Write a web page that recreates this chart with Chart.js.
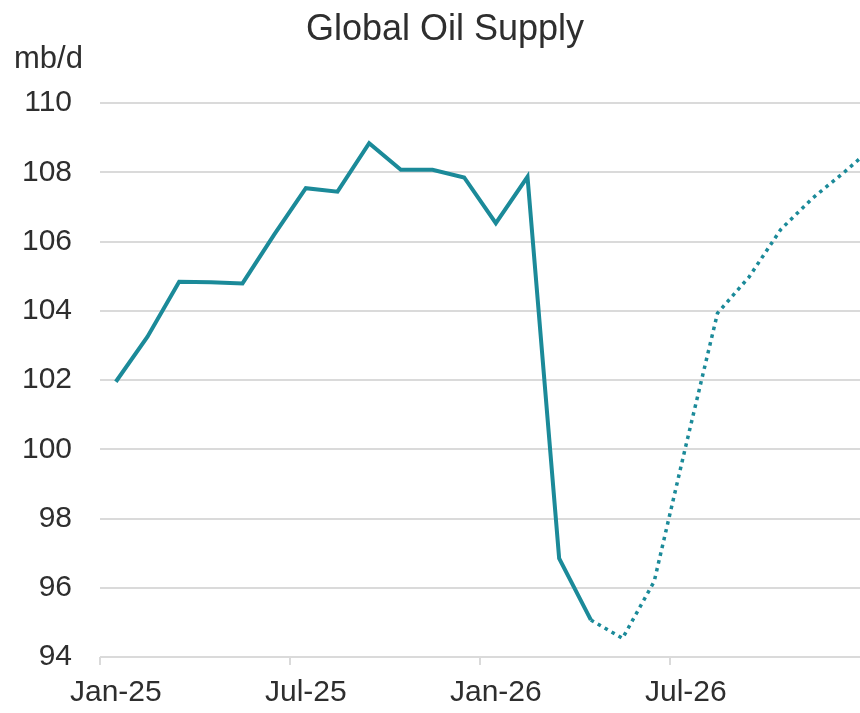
<!DOCTYPE html>
<html>
<head>
<meta charset="utf-8">
<script src="https://cdn.jsdelivr.net/npm/chart.js@4"></script>
<style>
  html, body { margin: 0; padding: 0; background: #ffffff; overflow: hidden; }
  #wrap { width: 860px; height: 713px; }
</style>
</head>
<body>
<div id="wrap"><canvas id="oilChart" width="860" height="713"></canvas></div>
<script>
'use strict';

/* ── Data ───────────────────────────────────────────────────────────────── */

const MONTHS = [
    'Jan-25', 'Feb-25', 'Mar-25', 'Apr-25', 'May-25', 'Jun-25',
    'Jul-25', 'Aug-25', 'Sep-25', 'Oct-25', 'Nov-25', 'Dec-25',
    'Jan-26', 'Feb-26', 'Mar-26', 'Apr-26', 'May-26', 'Jun-26',
    'Jul-26', 'Aug-26', 'Sep-26', 'Oct-26', 'Nov-26', 'Dec-26',
    'Jan-27'
];

// solid line: Jan-25 .. Apr-26
const SUPPLY_ACTUAL = [
    101.95, 103.25, 104.84, 104.82, 104.79, 106.2,
    107.54, 107.44, 108.84, 108.07, 108.07, 107.85,
    106.53, 107.87, 96.85, 95.07
];

// dotted line: Apr-26 .. Jan-27 (Jan-27 only partly visible at the edge)
const SUPPLY_FORECAST = [
    95.07, 94.54, 96.18, 100.1, 103.93, 104.98,
    106.35, 107.25, 108.0, 108.8
];

const Y_MIN = 94;
const Y_MAX = 110;
const Y_STEP = 2;
const MONTHS_SHOWN = 24;   // Jan-25 .. Dec-26 fit in the frame
const LABEL_EVERY = 6;

const TEAL = '#1b8a99';
const TEXT = '#2e2e2e';
const GRID = '#dadada';
const FONT = "'Liberation Sans', Arial, sans-serif";

/* ── Series as {x: month index, y} ──────────────────────────────────────── */

const FORECAST_START = SUPPLY_ACTUAL.length - 1;

const actualData = SUPPLY_ACTUAL.map((v, i) => ({ x: i, y: v }));
const forecastData = SUPPLY_FORECAST.map((v, j) => ({ x: FORECAST_START + j, y: v }));

/* ── Title + unit label (drawn on the canvas) ───────────────────────────── */

const headerText = {
    id: 'headerText',
    afterDraw(chart) {
        const ctx = chart.ctx;
        ctx.save();
        ctx.fillStyle = TEXT;
        ctx.textBaseline = 'alphabetic';

        ctx.font = '36px ' + FONT;
        ctx.textAlign = 'center';
        ctx.fillText('Global Oil Supply', 445, 40);

        ctx.font = '31px ' + FONT;
        ctx.textAlign = 'left';
        ctx.fillText('mb/d', 14, 68);
        ctx.restore();
    }
};

/* ── Chart ──────────────────────────────────────────────────────────────── */

const ctxOil = document.getElementById('oilChart').getContext('2d');
new Chart(ctxOil, {
    type: 'line',
    data: {
        datasets: [
            {
                label: 'Supply',
                data: actualData,
                borderColor: TEAL,
                borderWidth: 4,
                pointRadius: 0,
                tension: 0,
            },
            {
                label: 'Forecast',
                data: forecastData,
                borderColor: TEAL,
                borderWidth: 3.5,
                borderDash: [3.5, 4.5],
                pointRadius: 0,
                tension: 0,
            },
        ],
    },
    options: {
        responsive: false,
        animation: false,
        layout: { padding: { top: 103, left: 0, right: 0, bottom: 0 } },
        plugins: {
            legend: { display: false },
            tooltip: { enabled: false },
            title: { display: false },
        },
        scales: {
            x: {
                type: 'linear',
                min: -0.5,
                max: MONTHS_SHOWN - 0.5,
                border: { display: false },
                grid: {
                    offset: true,
                    drawOnChartArea: false,
                    drawTicks: true,
                    tickLength: 8,
                    lineWidth: 2,
                    color: c => (c.index % LABEL_EVERY === 0 ? GRID : 'rgba(0,0,0,0)'),
                },
                afterBuildTicks: s => {
                    s.ticks = MONTHS.slice(0, MONTHS_SHOWN).map((m, i) => ({ value: i }));
                },
                ticks: {
                    autoSkip: false,
                    maxRotation: 0,
                    padding: 10,
                    color: TEXT,
                    font: { family: FONT, size: 30 },
                    callback: v => (v % LABEL_EVERY === 0 ? MONTHS[v] : ''),
                },
                afterFit: s => { s.height = 56; },
            },
            y: {
                min: Y_MIN,
                max: Y_MAX,
                border: { display: false },
                grid: { color: GRID, lineWidth: 2, drawTicks: false },
                ticks: {
                    stepSize: Y_STEP,
                    padding: 28,
                    color: TEXT,
                    font: { family: FONT, size: 30 },
                },
                afterFit: s => { s.width = 100; },
            },
        },
    },
    plugins: [headerText],
});
</script>
</body>
</html>
